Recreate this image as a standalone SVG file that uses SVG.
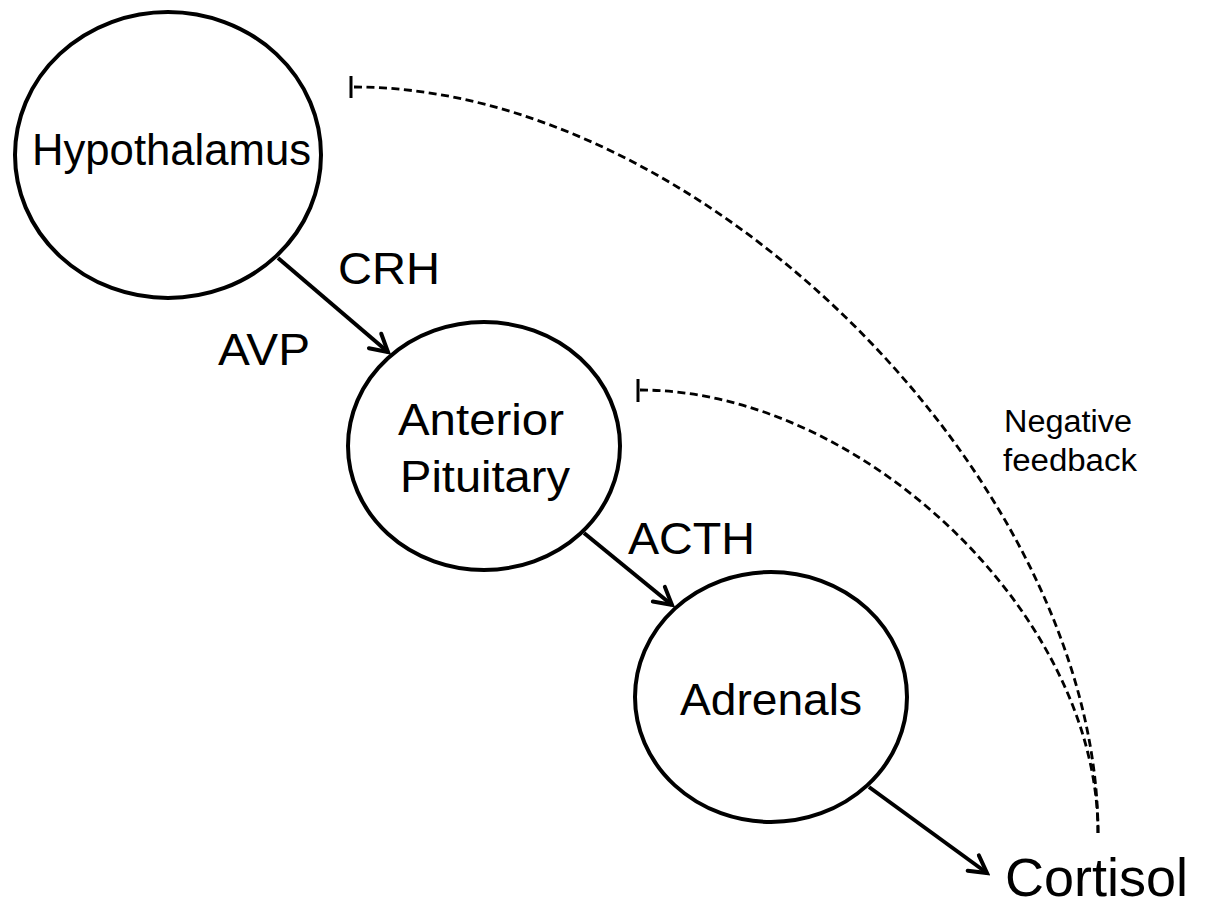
<svg xmlns="http://www.w3.org/2000/svg" width="1209" height="905" viewBox="0 0 1209 905">
  <style>
    .node { fill: #ffffff; stroke: #000000; stroke-width: 4; }
    .lbl { font-family: "Liberation Sans", Arial, sans-serif; fill: #000000; }
    .arrow { stroke: #000000; stroke-width: 4; fill: none; marker-end: url(#arrowhead); }
    .fb { stroke: #000000; stroke-width: 2.8; fill: none; stroke-dasharray: 8 4.5; }
    .tbar { stroke: #000000; stroke-width: 3; }
  </style>
  <defs>
    <marker id="arrowhead" markerUnits="userSpaceOnUse" markerWidth="26" markerHeight="26" viewBox="0 0 26 26" refX="22" refY="13" orient="auto">
      <path d="M5,3.5 L22,13 L5,22.5" fill="none" stroke="#000000" stroke-width="4" stroke-linecap="round" stroke-linejoin="miter"/>
    </marker>
  </defs>
  <rect width="1209" height="905" fill="#ffffff"/>

  <g id="connectors">
    <line class="arrow" x1="278" y1="258" x2="388" y2="352"/>
    <line class="arrow" x1="584" y1="533" x2="672" y2="605"/>
    <line class="arrow" x1="869" y1="787" x2="987" y2="873"/>
    <path class="fb" d="M354,87 C704,87 1098,483 1098,833"/>
    <path class="fb" d="M640,390 C860,390 1098,613 1098,833"/>
    <line class="tbar" x1="351" y1="76" x2="351" y2="98"/>
    <line class="tbar" x1="638" y1="379" x2="638" y2="402"/>
  </g>

  <g id="node-hypothalamus">
    <ellipse class="node" cx="168" cy="155" rx="153" ry="143"/>
    <text class="lbl" x="32" y="165" font-size="44" textLength="279" lengthAdjust="spacingAndGlyphs">Hypothalamus</text>
  </g>

  <g id="node-anterior-pituitary">
    <ellipse class="node" cx="484" cy="446" rx="136" ry="124"/>
    <text class="lbl" x="398" y="435" font-size="44" textLength="166" lengthAdjust="spacingAndGlyphs">Anterior</text>
    <text class="lbl" x="400" y="492" font-size="44" textLength="170" lengthAdjust="spacingAndGlyphs">Pituitary</text>
  </g>

  <g id="node-adrenals">
    <ellipse class="node" cx="771" cy="697" rx="136" ry="125"/>
    <text class="lbl" x="680" y="715" font-size="44" textLength="182" lengthAdjust="spacingAndGlyphs">Adrenals</text>
  </g>

  <g id="node-cortisol">
    <text class="lbl" x="1005" y="896" font-size="53" textLength="183" lengthAdjust="spacingAndGlyphs">Cortisol</text>
  </g>

  <g id="labels">
    <text class="lbl" x="338" y="284" font-size="44" textLength="102" lengthAdjust="spacingAndGlyphs">CRH</text>
    <text class="lbl" x="218" y="365" font-size="44" textLength="92" lengthAdjust="spacingAndGlyphs">AVP</text>
    <text class="lbl" x="628" y="554" font-size="44" textLength="127" lengthAdjust="spacingAndGlyphs">ACTH</text>
    <text class="lbl" x="1004" y="432" font-size="31" textLength="128" lengthAdjust="spacingAndGlyphs">Negative</text>
    <text class="lbl" x="1003" y="471" font-size="31" textLength="134" lengthAdjust="spacingAndGlyphs">feedback</text>
  </g>
</svg>
